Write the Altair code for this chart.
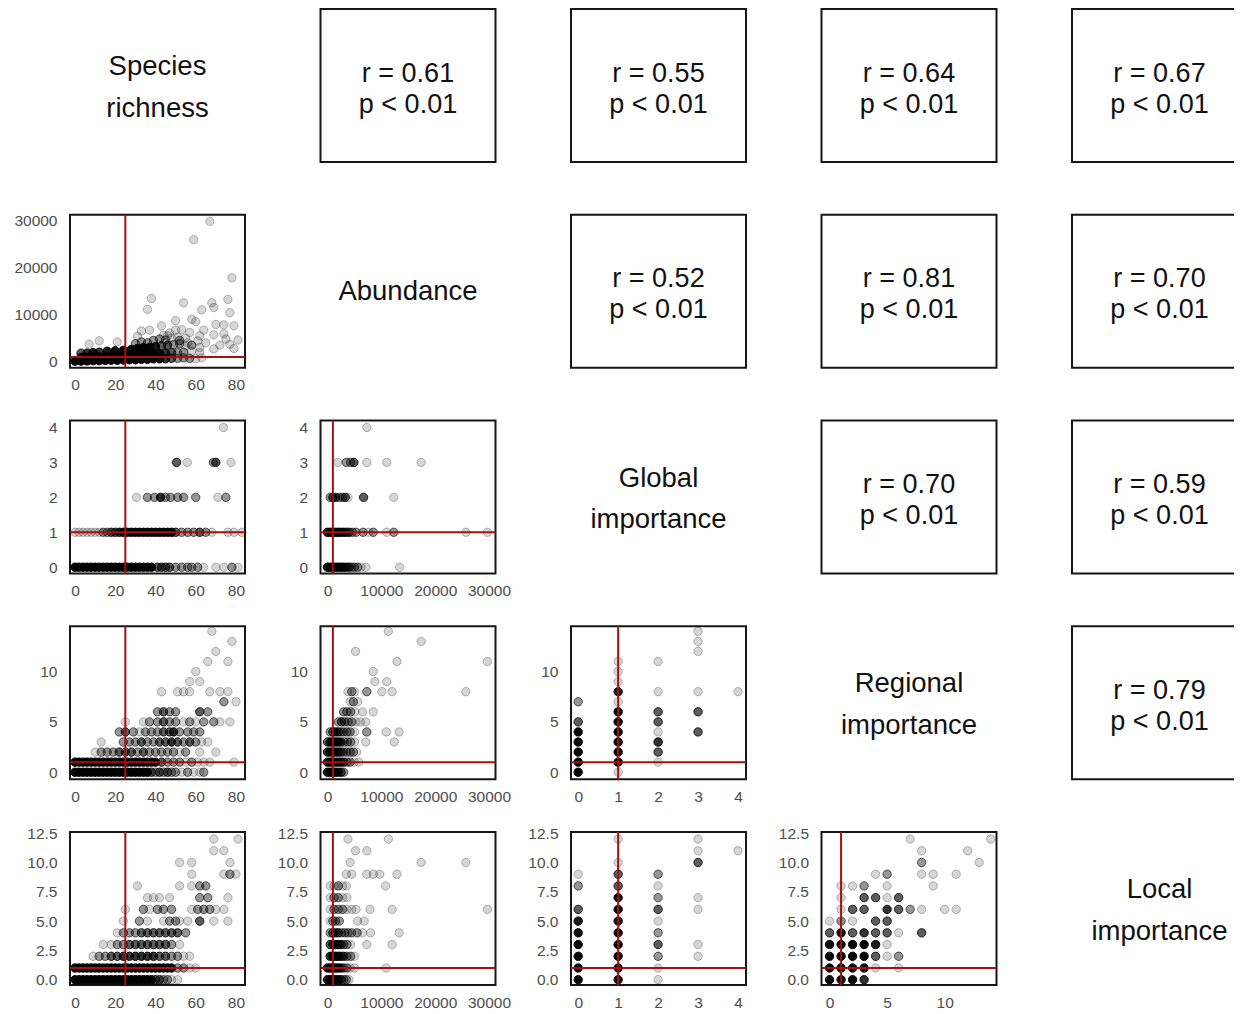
import altair as alt
import pandas as pd

FONT = "Liberation Sans"
RED = "#a81010"
W, H = 175, 153

VARS = ["rich", "abund", "global", "regional", "local"]
LABELS = ["Species\nrichness", "Abundance", "Global\nimportance", "Regional\nimportance", "Local\nimportance"]
DOMAINS = {
    "rich": [-2.5, 84.5],
    "abund": [-1300, 31200],
    "global": [-0.18, 4.2],
    "regional": [-0.7, 14.5],
    "local": [-0.45, 12.6],
}
TICKS = {
    "rich": [0, 20, 40, 60, 80],
    "abund": [0, 10000, 20000, 30000],
    "global": [0, 1, 2, 3, 4],
    "regional": [0, 5, 10],
    "local": [0, 2.5, 5, 7.5, 10, 12.5],
}
FORMATS = {"rich": "d", "abund": "d", "global": "d", "regional": "d", "local": ".1f"}
THRESH = {"rich": 25, "abund": 1000, "global": 1, "regional": 1, "local": 1}

# upper-triangle correlation values (row, col) -> r
R_VALUES = {
    (0, 1): "0.61", (0, 2): "0.55", (0, 3): "0.64", (0, 4): "0.67",
    (1, 2): "0.52", (1, 3): "0.81", (1, 4): "0.70",
    (2, 3): "0.70", (2, 4): "0.59",
    (3, 4): "0.79",
}
P_TEXT = "p < 0.01"

# scatter data: (x, y, number of overlapping observations)
ABUND_VS_RICH = [
    (0, 100, 8), (3, 100, 10), (6, 150, 12), (9, 200, 12), (12, 200, 12), (15, 250, 12), (18, 300, 12),
    (21, 300, 12), (24, 350, 12), (27, 400, 12), (30, 400, 12), (33, 500, 12), (36, 500, 10), (39, 600, 8),
    (42, 600, 6), (45, 600, 4), (48, 700, 3), (51, 700, 2), (54, 800, 2), (57, 700, 2), (60, 600, 1), (63, 800, 1),
    (3, 900, 6), (6, 900, 8), (9, 1000, 12), (12, 1000, 12), (15, 1100, 12), (18, 1100, 12), (21, 1200, 12),
    (24, 1200, 12), (27, 1300, 12), (30, 1400, 12), (33, 1500, 12), (36, 1500, 10), (39, 1600, 8), (42, 1700, 6),
    (45, 1800, 4), (48, 1900, 3), (51, 1900, 2), (54, 2000, 2), (58, 2200, 1), (62, 2000, 1),
    (3, 1800, 3), (6, 1800, 4), (9, 1900, 5),
    (12, 2000, 4), (16, 2200, 5), (20, 2300, 6), (24, 2400, 8), (28, 2600, 8), (31, 2800, 8), (34, 3000, 8),
    (37, 3000, 7), (40, 3200, 5), (43, 3400, 3), (46, 3500, 3), (49, 3600, 2), (52, 3800, 2), (55, 3400, 1),
    (30, 3800, 2), (33, 4200, 2), (36, 4000, 2), (39, 4500, 2), (42, 4800, 2), (45, 4600, 2), (48, 5000, 1),
    (51, 5200, 1), (44, 5600, 1), (47, 6100, 1), (46, 5500, 1), (52, 4500, 2), (55, 5000, 1), (58, 3500, 2),
    (62, 3000, 1), (65, 4000, 1), (72, 3500, 1), (75, 4800, 1),
    (67, 29800, 1), (59, 25900, 1), (78, 17800, 1), (38, 13400, 1), (36, 11100, 1), (54, 12500, 1),
    (68, 12500, 1), (69, 11500, 1), (63, 11000, 1), (76, 13200, 1), (77, 10400, 1), (58, 9000, 1),
    (60, 8500, 1), (50, 8700, 1), (43, 7600, 1), (37, 6700, 1), (53, 6800, 1), (64, 6700, 1), (70, 7900, 1),
    (74, 7800, 1), (79, 7600, 1), (50, 6700, 1), (57, 6200, 1), (62, 5500, 1), (69, 5700, 1), (74, 5900, 1),
    (81, 4600, 1), (77, 3700, 1), (79, 2800, 1), (69, 2700, 1), (56, 4000, 1), (61, 4400, 1), (7, 3700, 1),
    (12, 4400, 1), (21, 4200, 1), (31, 5400, 1), (33, 6500, 1),
]

GLOBAL_VS_RICH = (
    [(x, 0, 6) for x in (0, 2, 4, 6, 8, 10, 12, 14, 16, 18, 20, 22, 24, 26, 28, 30, 32, 34, 36, 38)]
    + [(41, 0, 3), (43, 0, 3), (45, 0, 3), (47, 0, 3), (50, 0, 2), (53, 0, 2), (56, 0, 2), (58, 0, 2),
       (61, 0, 2), (64, 0, 1), (70, 0, 1), (74, 0, 1), (78, 0, 2), (81, 0, 1)]
    + [(0, 1, 1), (2, 1, 1), (4, 1, 1), (6, 1, 1), (8, 1, 1), (10, 1, 1), (12, 1, 1), (14, 1, 2), (16, 1, 2),
       (18, 1, 3), (20, 1, 3), (22, 1, 4)]
    + [(x, 1, 6) for x in (24, 26, 28, 30, 32, 34, 36, 38, 40, 42, 44, 46, 48)]
    + [(50, 1, 3), (53, 1, 2), (56, 1, 2), (59, 1, 2), (62, 1, 3), (65, 1, 2), (68, 1, 1), (76, 1, 1),
       (79, 1, 1), (83, 1, 1)]
    + [(30.5, 2, 1), (36, 2, 2), (39.5, 2, 2), (42.5, 2, 4), (45, 2, 2), (47.5, 2, 2), (51, 2, 2), (54, 2, 2),
       (60, 2, 2), (71, 2, 1), (75, 2, 2)]
    + [(50.5, 3, 3), (55.8, 3, 1), (68.8, 3, 2), (70, 3, 3), (77.5, 3, 1), (73.8, 4, 1)]
)

GLOBAL_VS_ABUND = [
    (0, 0, 5), (500, 0, 5), (1000, 0, 5), (1500, 0, 5), (2000, 0, 5), (2500, 0, 4), (3000, 0, 4), (3500, 0, 3),
    (4000, 0, 3), (4500, 0, 2), (5000, 0, 2), (5600, 0, 2), (6200, 0, 1), (7100, 0, 1), (13400, 0, 1),
    (0, 1, 5), (500, 1, 6), (1000, 1, 6), (1500, 1, 5), (2000, 1, 5), (2500, 1, 4), (3000, 1, 4), (3500, 1, 3),
    (4000, 1, 3), (4600, 1, 2), (5300, 1, 2), (6600, 1, 2), (7600, 1, 1), (8500, 1, 2), (11000, 1, 1),
    (12300, 1, 2), (25700, 1, 1), (29700, 1, 1),
    (500, 2, 2), (1000, 2, 3), (1500, 2, 3), (2200, 2, 2), (2800, 2, 2), (3300, 2, 3), (3800, 2, 1),
    (6700, 2, 3), (12300, 2, 1),
    (1900, 3, 1), (3500, 3, 2), (4300, 3, 2), (4900, 3, 3), (7300, 3, 1), (11000, 3, 1), (17400, 3, 1),
    (7300, 4, 1),
]

REGIONAL_VS_RICH = (
    [(x, 0, 6) for x in (0, 2, 4, 6, 8, 10, 12, 14, 16, 18, 20, 22, 24, 26, 28, 30, 32, 34, 36)]
    + [(38, 0, 3), (40, 0, 2), (42, 0, 3), (44, 0, 2), (46, 0, 3), (48, 0, 2), (50, 0, 2), (53, 0, 1),
       (56, 0, 2), (59, 0, 1), (62, 0, 1), (64, 0, 2)]
    + [(x, 1, 6) for x in (0, 2, 4, 6, 8, 10, 12, 14, 16, 18, 20, 22, 24, 26, 28, 30, 32, 34, 36, 38, 40)]
    + [(43, 1, 3), (46, 1, 2), (49, 1, 2), (52, 1, 2), (55, 1, 1), (58, 1, 2), (61, 1, 1), (64, 1, 1),
       (67, 1, 1), (79, 1, 1)]
    + [(10, 2, 1), (13, 2, 2), (16, 2, 2), (19, 2, 2), (22, 2, 3), (25, 2, 3), (28, 2, 3), (31, 2, 2),
       (34, 2, 3), (37, 2, 2), (40, 2, 2), (43, 2, 2), (46, 2, 2), (49, 2, 2), (52, 2, 1), (55, 2, 2),
       (62, 2, 1), (70, 2, 1)]
    + [(13, 3, 1), (24, 3, 2), (27, 3, 2), (30, 3, 2), (33, 3, 3), (36, 3, 2), (39, 3, 2), (42, 3, 3),
       (45, 3, 3), (48, 3, 4), (51, 3, 3), (54, 3, 2), (57, 3, 3), (60, 3, 2), (63, 3, 1), (66, 3, 1)]
    + [(22, 4, 2), (25, 4, 3), (29, 4, 2), (32, 4, 1), (35, 4, 2), (38, 4, 2), (41, 4, 2), (44, 4, 3),
       (47, 4, 3), (49, 4, 4), (52, 4, 2), (56, 4, 2), (59, 4, 2), (62, 4, 2)]
    + [(25, 5, 1), (34, 5, 1), (37, 5, 2), (41, 5, 2), (44, 5, 3), (47, 5, 2), (50, 5, 2), (54, 5, 1),
       (57, 5, 2), (60, 5, 1), (64, 5, 2), (69, 5, 2), (72, 5, 1), (77, 5, 1)]
    + [(41, 6, 2), (44, 6, 3), (47, 6, 2), (50, 6, 2), (62, 6, 3), (66, 6, 2), (74, 7, 2), (80, 7, 1)]
    + [(43, 8, 1), (51, 8, 1), (54, 8, 1), (57, 8, 1), (67, 8, 1), (72, 8, 1), (76, 8, 1),
       (57, 9, 1), (62, 9, 1), (60, 10, 1), (66, 11, 1), (76, 11, 1), (70, 12, 1), (78, 13, 1), (68, 14, 1)]
)

REGIONAL_VS_ABUND = [
    (0, 0, 5), (500, 0, 5), (1000, 0, 5), (1500, 0, 5), (2000, 0, 4), (2500, 0, 3), (3000, 0, 2),
    (0, 1, 5), (500, 1, 5), (1000, 1, 6), (1500, 1, 5), (2000, 1, 4), (2500, 1, 3), (3000, 1, 3), (3600, 1, 2),
    (4200, 1, 2), (5000, 1, 1), (5800, 1, 1),
    (0, 2, 4), (500, 2, 5), (1000, 2, 5), (1500, 2, 5), (2000, 2, 4), (2500, 2, 3), (3000, 2, 2), (3600, 2, 2),
    (4200, 2, 2), (4800, 2, 2), (5400, 2, 1),
    (0, 3, 3), (500, 3, 4), (1000, 3, 5), (1500, 3, 5), (2000, 3, 4), (2500, 3, 3), (3100, 3, 2), (3700, 3, 2),
    (4300, 3, 2), (5000, 3, 1), (7100, 3, 1), (12400, 3, 1),
    (500, 4, 2), (1000, 4, 3), (1500, 4, 3), (2000, 4, 3), (2500, 4, 2), (3000, 4, 2), (3600, 4, 2),
    (4200, 4, 2), (5000, 4, 1), (7300, 4, 2), (10900, 4, 1), (13300, 4, 1),
    (2000, 5, 2), (2600, 5, 3), (3200, 5, 2), (3800, 5, 2), (4500, 5, 2), (5300, 5, 1), (6100, 5, 1), (7100, 5, 1),
    (3000, 6, 2), (3600, 6, 2), (4300, 6, 2), (5100, 6, 1), (6500, 6, 1), (8500, 6, 1),
    (4200, 7, 1), (4800, 7, 2), (5600, 7, 1),
    (3800, 8, 1), (4500, 8, 2), (5000, 8, 1), (7300, 8, 2), (10100, 8, 1), (12000, 8, 1), (25700, 8, 1),
    (8800, 9, 1), (11000, 9, 1), (8500, 10, 1), (12900, 11, 1), (29700, 11, 1), (5200, 12, 1),
    (17400, 13, 1), (11300, 14, 1),
]

REGIONAL_VS_GLOBAL = [
    (0, 0, 15), (0, 1, 15), (0, 2, 12), (0, 3, 9), (0, 4, 7), (0, 5, 3), (0, 7, 2),
    (1, 0, 1), (1, 1, 15), (1, 2, 12), (1, 3, 12), (1, 4, 10), (1, 5, 10), (1, 6, 7), (1, 7, 1), (1, 8, 5),
    (1, 9, 1), (1, 10, 1), (1, 11, 1),
    (2, 1, 1), (2, 2, 3), (2, 3, 4), (2, 4, 1), (2, 5, 3), (2, 6, 3), (2, 8, 1), (2, 11, 1),
    (3, 4, 3), (3, 6, 3), (3, 8, 1), (3, 12, 1), (3, 13, 1), (3, 14, 1),
    (4, 8, 1),
]

LOCAL_VS_RICH = (
    [(x, 0, 6) for x in (0, 2, 4, 6, 8, 10, 12, 14, 16, 18, 20, 22, 24, 26, 28, 30, 32, 34, 36, 38)]
    + [(40, 0, 3), (42, 0, 3), (44, 0, 2), (46, 0, 2), (48, 0, 1), (51, 0, 1)]
    + [(x, 1, 6) for x in (0, 2, 4, 6, 8, 10, 12, 14, 16, 18, 20, 22, 24, 26, 28, 30, 32, 34, 36, 38, 40,
                           42, 44, 46, 48)]
    + [(51, 1, 2), (54, 1, 2), (57, 1, 1), (60, 1, 1)]
    + [(9, 2, 1), (12, 2, 2), (15, 2, 2), (18, 2, 3), (21, 2, 3), (24, 2, 4), (27, 2, 4), (30, 2, 4),
       (33, 2, 4), (36, 2, 4), (39, 2, 4), (42, 2, 3), (45, 2, 3), (48, 2, 2), (51, 2, 2), (54, 2, 1),
       (57, 2, 1)]
    + [(14, 3, 1), (18, 3, 1), (21, 3, 2), (24, 3, 2), (27, 3, 3), (30, 3, 3), (33, 3, 3), (36, 3, 3),
       (39, 3, 3), (42, 3, 3), (45, 3, 3), (48, 3, 2), (52, 3, 1)]
    + [(21, 4, 1), (24, 4, 2), (27, 4, 2), (30, 4, 2), (33, 4, 3), (36, 4, 3), (39, 4, 3), (42, 4, 3),
       (45, 4, 3), (48, 4, 3), (51, 4, 3), (55, 4, 2)]
    + [(24, 5, 1), (32, 5, 2), (36, 5, 1), (44, 5, 1), (47, 5, 2), (50, 5, 2), (52, 5, 1), (56, 5, 1),
       (62, 5, 3), (69, 5, 1), (76, 5, 1)]
    + [(25, 6, 1), (34, 6, 2), (37, 6, 1), (41, 6, 2), (44, 6, 2), (48, 6, 2), (58, 6, 1), (61, 6, 2),
       (64, 6, 2), (67, 6, 2), (70, 6, 1), (74, 6, 1)]
    + [(36, 7, 1), (39, 7, 1), (42, 7, 1), (47, 7, 1), (62, 7, 2), (66, 7, 2), (76, 7, 1)]
    + [(31, 8, 1), (52, 8, 1), (58, 8, 1), (62, 8, 2), (65, 8, 2)]
    + [(58, 9, 1), (74, 9, 1), (77, 9, 2), (80, 9, 1), (52, 10, 1), (58, 10, 1), (77, 10, 1),
       (69, 11, 1), (74, 11, 1), (69, 12, 1), (81, 12, 1)]
)

LOCAL_VS_ABUND = [
    (0, 0, 5), (500, 0, 5), (1000, 0, 5), (1500, 0, 5), (2000, 0, 4), (2500, 0, 3), (3000, 0, 2), (3500, 0, 2),
    (4000, 0, 1),
    (0, 1, 5), (500, 1, 5), (1000, 1, 6), (1500, 1, 5), (2000, 1, 4), (2500, 1, 3), (3000, 1, 2), (3600, 1, 2),
    (4200, 1, 1), (5000, 1, 1), (10900, 1, 1),
    (500, 2, 4), (1000, 2, 5), (1500, 2, 5), (2000, 2, 4), (2500, 2, 3), (3000, 2, 3), (3600, 2, 2),
    (4300, 2, 2), (5000, 2, 1),
    (500, 3, 3), (1000, 3, 4), (1500, 3, 4), (2000, 3, 4), (2500, 3, 3), (3000, 3, 2), (3600, 3, 2),
    (4300, 3, 1), (7300, 3, 1), (12000, 3, 1),
    (500, 4, 2), (1000, 4, 3), (1500, 4, 3), (2000, 4, 3), (2600, 4, 2), (3200, 4, 2), (3800, 4, 2),
    (4500, 4, 2), (5500, 4, 2), (6500, 4, 1), (8000, 4, 1), (13300, 4, 1),
    (500, 5, 1), (1000, 5, 2), (1500, 5, 2), (2200, 5, 2), (5600, 5, 1), (6800, 5, 1),
    (500, 6, 1), (1200, 6, 2), (2000, 6, 2), (2800, 6, 2), (3600, 6, 1), (4500, 6, 1), (5300, 6, 1),
    (7900, 6, 1), (12000, 6, 1), (29700, 6, 1),
    (500, 7, 1), (1200, 7, 2), (2000, 7, 2), (2800, 7, 1), (3600, 7, 1),
    (500, 8, 1), (1200, 8, 1), (2000, 8, 2), (2800, 8, 1), (3500, 8, 1), (10800, 8, 1),
    (3500, 9, 1), (4500, 9, 1), (7300, 9, 1), (8500, 9, 1), (9700, 9, 1), (12900, 9, 1),
    (4200, 10, 1), (17400, 10, 1), (25700, 10, 1), (5200, 11, 1), (7300, 11, 1), (3800, 12, 1), (11300, 12, 1),
]

LOCAL_VS_GLOBAL = [
    (0, 0, 15), (0, 1, 15), (0, 2, 12), (0, 3, 10), (0, 4, 7), (0, 5, 5), (0, 6, 3), (0, 8, 2), (0, 9, 1),
    (1, 0, 12), (1, 1, 15), (1, 2, 12), (1, 3, 12), (1, 4, 10), (1, 5, 5), (1, 6, 8), (1, 7, 6), (1, 8, 3),
    (1, 9, 3), (1, 10, 1), (1, 12, 1),
    (2, 0, 1), (2, 1, 1), (2, 2, 2), (2, 3, 3), (2, 4, 2), (2, 5, 1), (2, 6, 3), (2, 7, 2), (2, 8, 1), (2, 9, 2),
    (3, 2, 1), (3, 3, 1), (3, 6, 1), (3, 7, 1), (3, 10, 3), (3, 11, 1), (3, 12, 1),
    (4, 11, 1),
]

LOCAL_VS_REGIONAL = [
    (0, 0, 15), (1, 0, 12), (2, 0, 8), (3, 0, 4),
    (0, 1, 15), (1, 1, 15), (2, 1, 12), (3, 1, 6), (4, 1, 1), (6, 1, 1),
    (0, 2, 15), (1, 2, 12), (2, 2, 10), (3, 2, 8), (4, 2, 3), (5, 2, 1), (6, 2, 2),
    (0, 3, 6), (1, 3, 10), (2, 3, 7), (3, 3, 7), (4, 3, 5), (5, 3, 1),
    (0, 4, 3), (1, 4, 6), (2, 4, 3), (3, 4, 4), (4, 4, 3), (5, 4, 3), (6, 4, 1), (8, 4, 3),
    (0, 5, 1), (1, 5, 2), (2, 5, 1), (4, 5, 3), (5, 5, 3),
    (1, 6, 1), (2, 6, 3), (3, 6, 3), (5, 6, 4), (6, 6, 3), (7, 6, 2), (8, 6, 1), (10, 6, 1), (11, 6, 1),
    (1, 7, 1), (3, 7, 3), (4, 7, 3), (5, 7, 1), (6, 7, 3),
    (1, 8, 1), (2, 8, 1), (3, 8, 2), (5, 8, 1), (9, 8, 1),
    (4, 9, 1), (5, 9, 2), (8, 9, 1), (9, 9, 1), (11, 9, 1),
    (8, 10, 2), (13, 10, 1), (8, 11, 1), (12, 11, 1), (7, 12, 1), (14, 12, 1),
]

SCATTER = {
    (1, 0): ABUND_VS_RICH,
    (2, 0): GLOBAL_VS_RICH, (2, 1): GLOBAL_VS_ABUND,
    (3, 0): REGIONAL_VS_RICH, (3, 1): REGIONAL_VS_ABUND, (3, 2): REGIONAL_VS_GLOBAL,
    (4, 0): LOCAL_VS_RICH, (4, 1): LOCAL_VS_ABUND, (4, 2): LOCAL_VS_GLOBAL, (4, 3): LOCAL_VS_REGIONAL,
}


def axis_for(v, pad):
    return alt.Axis(values=TICKS[v], format=FORMATS[v], ticks=False, tickSize=0, domain=False, grid=False,
                    labelFont=FONT, labelFontSize=15.5, labelColor="#4d4d4d", labelPadding=pad,
                    labelFlush=False, labelOverlap=False)


def scatter_panel(data, xv, yv):
    df = pd.DataFrame(data, columns=["x", "y", "n"])
    xenc = alt.X("x:Q", scale=alt.Scale(domain=DOMAINS[xv], nice=False, zero=False),
                 axis=axis_for(xv, 10), title=None)
    yenc = alt.Y("y:Q", scale=alt.Scale(domain=DOMAINS[yv], nice=False, zero=False),
                 axis=axis_for(yv, 13), title=None)
    pts = (
        alt.Chart(df)
        .transform_calculate(fo="1 - pow(0.84, pow(datum.n, 1.6))", so="1 - pow(0.74, pow(datum.n, 1.6))")
        .mark_circle(size=70, color="black", stroke="black", strokeWidth=1, opacity=1)
        .encode(x=xenc, y=yenc,
                fillOpacity=alt.FillOpacity("fo:Q", scale=None),
                strokeOpacity=alt.StrokeOpacity("so:Q", scale=None))
    )
    vline = alt.Chart(pd.DataFrame({"x": [THRESH[xv]]})).mark_rule(color=RED, strokeWidth=2).encode(x=xenc)
    hline = alt.Chart(pd.DataFrame({"y": [THRESH[yv]]})).mark_rule(color=RED, strokeWidth=2).encode(y=yenc)
    return alt.layer(pts, vline, hline).properties(width=W, height=H)


def box_panel(r):
    df = pd.DataFrame({"t": [f"r = {r}\n{P_TEXT}"]})
    return (
        alt.Chart(df)
        .mark_text(lineBreak="\n", font=FONT, fontSize=27, lineHeight=31, color="#111111",
                   align="center", baseline="middle")
        .encode(text="t:N", x=alt.value(W / 2), y=alt.value(64.5))
        .properties(width=W, height=H)
    )


def diag_panel(label):
    df = pd.DataFrame({"t": [label]})
    ypos = 77 if "\n" not in label else 58
    return (
        alt.Chart(df)
        .mark_text(lineBreak="\n", font=FONT, fontSize=27.5, lineHeight=41.5, color="#111111",
                   align="center", baseline="middle")
        .encode(text="t:N", x=alt.value(W / 2), y=alt.value(ypos))
        .properties(width=W, height=H, view=alt.ViewBackground(stroke="transparent"))
    )


charts = []
for i in range(5):
    for j in range(5):
        if i == j:
            charts.append(diag_panel(LABELS[i]))
        elif i < j:
            charts.append(box_panel(R_VALUES[(i, j)]))
        else:
            charts.append(scatter_panel(SCATTER[(i, j)], VARS[j], VARS[i]))

chart = (
    alt.concat(*charts, columns=5, spacing={"row": 52.75, "column": 75.5}, bounds="flush", align="all")
    .properties(padding={"left": 4, "top": 0, "right": -14, "bottom": 0})
    .configure_view(stroke="#161616", strokeWidth=2)
)

chart.save("out.html", embed_options={"renderer": "svg", "actions": False})
